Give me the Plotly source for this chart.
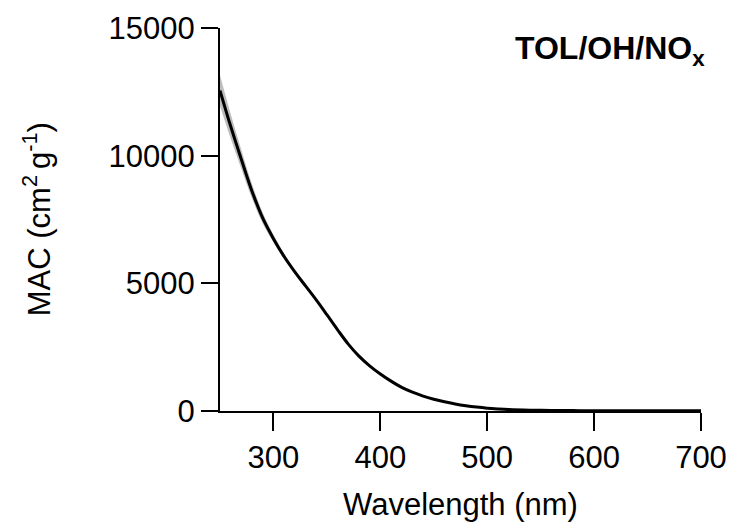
import plotly.graph_objects as go

# Mass absorption coefficient spectrum (TOL/OH/NOx SOA)
wavelength = [250, 260, 270, 280, 290, 300, 310, 320, 330, 340, 350, 360, 370,
              380, 390, 400, 410, 420, 430, 440, 450, 460, 470, 480, 490, 500,
              510, 520, 540, 560, 580, 600, 650, 700]
mac = [12550, 11150, 9850, 8600, 7550, 6750, 6050, 5450, 4900, 4350, 3770,
       3180, 2620, 2150, 1770, 1450, 1170, 925, 735, 585, 462, 360, 276, 208,
       153, 110, 80, 57, 33, 22, 16, 12, 8, 5]
mac_sd = [600, 480, 370, 280, 210, 150, 115, 90, 70, 55, 45, 38, 32, 28, 25,
          20, 18, 16, 14, 12, 10, 10, 9, 8, 7, 6, 6, 5, 5, 5, 5, 5, 5, 6]

upper = [m + s for m, s in zip(mac, mac_sd)]
lower = [m - s for m, s in zip(mac, mac_sd)]

FONT = "Liberation Sans, Arial, sans-serif"

fig = go.Figure()

# uncertainty band
fig.add_trace(go.Scatter(x=wavelength, y=upper, mode="lines",
                         line=dict(width=0, color="#bdbdbd", shape="spline"),
                         showlegend=False, hoverinfo="skip"))
fig.add_trace(go.Scatter(x=wavelength, y=lower, mode="lines",
                         line=dict(width=0, color="#bdbdbd", shape="spline"),
                         fill="tonexty", fillcolor="#bdbdbd",
                         showlegend=False, hoverinfo="skip"))
# mean spectrum
fig.add_trace(go.Scatter(x=wavelength, y=mac, mode="lines",
                         line=dict(width=3, color="black", shape="spline",
                                   smoothing=1.0),
                         showlegend=False))

fig.update_layout(
    width=733, height=522,
    margin=dict(l=220, r=32, t=28, b=111),
    paper_bgcolor="white", plot_bgcolor="white",
    font=dict(family=FONT, size=31, color="black"),
    xaxis=dict(range=[250, 700], tickvals=[300, 400, 500, 600, 700],
               automargin=False,
               showline=True, linecolor="black", linewidth=2,
               ticks="outside", ticklen=18, tickwidth=2, tickcolor="black",
               showgrid=False, zeroline=False,
               tickfont=dict(family=FONT, size=31),
               title=dict(text="Wavelength (nm)",
                          font=dict(family=FONT, size=31), standoff=20)),
    yaxis=dict(range=[0, 15000], tickvals=[0, 5000, 10000, 15000],
               ticktext=["0", "5000", "10000", "15000"],
               automargin=False,
               showline=True, linecolor="black", linewidth=2,
               ticks="outside", ticklen=17, tickwidth=2, tickcolor="black",
               showgrid=False, zeroline=False,
               tickfont=dict(family=FONT, size=31)),
    annotations=[
        dict(text="MAC (cm<sup>2 </sup>g<sup>-1</sup>)", textangle=-90,
             xref="paper", yref="paper", x=-0.381, y=0.5,
             xanchor="center", yanchor="middle", showarrow=False,
             font=dict(family=FONT, size=31)),
        dict(text="<b>TOL/OH/NO<sub>x</sub></b>",
             xref="paper", yref="paper", x=1.012, y=1.0,
             xanchor="right", yanchor="top", showarrow=False,
             font=dict(family=FONT, size=32)),
    ],
)

fig.write_html("out.html")
